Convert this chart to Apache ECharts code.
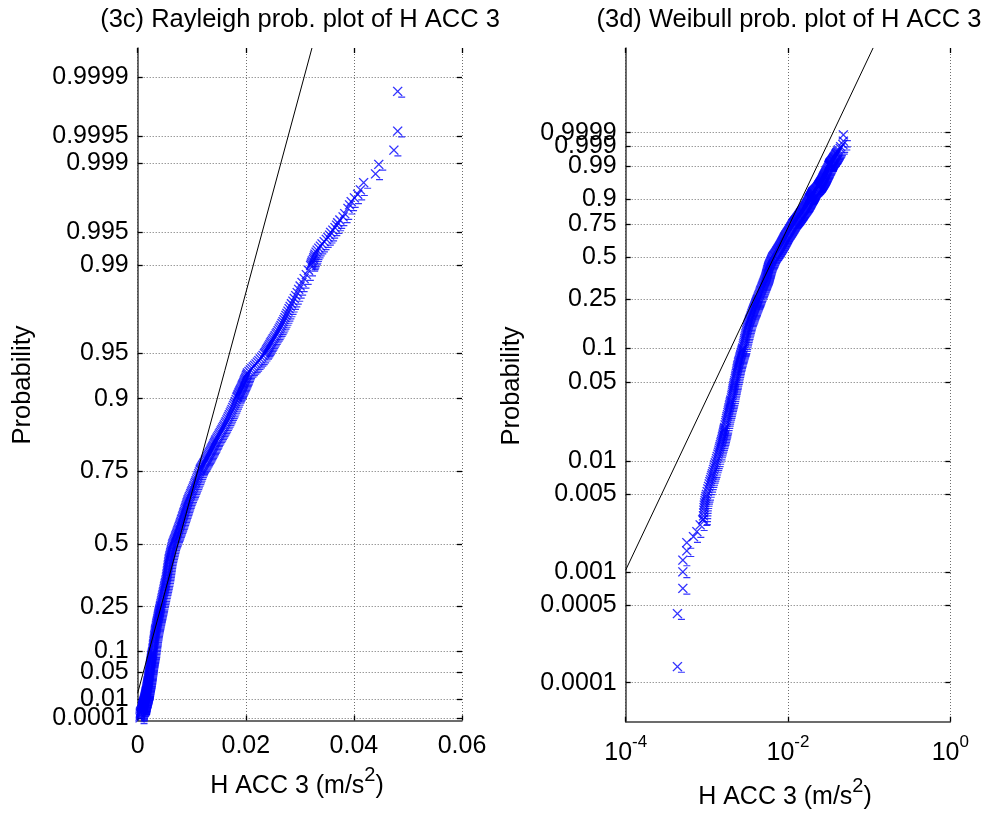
<!DOCTYPE html>
<html><head><meta charset="utf-8">
<script src="https://cdn.jsdelivr.net/npm/echarts@6/dist/echarts.min.js"></script>
<style>html,body{margin:0;padding:0;background:#fff}#c{width:987px;height:814px}</style>
</head><body><div id="c"></div>
<script>
// Sorted H ACC 3 samples: plotting probability (p) and value (m/s^2)
const accProbs = [
  0.00014,0.00042,0.00071,0.00100,0.00128,0.00155,0.00184,0.00208,0.00231,0.00266,0.00295,
  0.0030,0.0032,0.0034,0.0036,0.0038,0.0040,0.0042,0.0044,0.0046,0.0048,0.0050,0.0053,0.0056,
  0.0059,0.0062,0.0065,0.0068,0.0071,0.0074,0.0077,0.0080,0.0084,0.0088,0.0092,0.0096,0.0100,
  0.0105,0.011,0.0115,0.012,0.0125,0.013,0.0135,0.014,0.0145,0.015,
  0.0155,0.016,0.0165,0.017,0.0175,0.018,0.0185,0.019,0.0195,0.020,
  0.021,0.022,0.023,0.024,0.025,0.026,0.027,0.028,0.029,0.030,
  0.031,0.032,0.033,0.034,0.035,0.0365,0.038,0.0395,0.041,0.0425,
  0.044,0.0455,0.047,0.0485,0.050,0.052,0.054,0.056,0.058,0.060,
  0.062,0.064,0.066,0.068,0.070,0.072,0.074,0.076,0.078,0.080,
  0.082,0.084,0.086,0.088,0.090,0.092,0.094,0.096,0.098,0.100,
  0.104,0.108,0.112,0.116,0.120,0.124,0.128,0.132,0.136,0.140,
  0.144,0.148,0.152,0.156,0.160,0.164,0.168,0.172,0.176,0.180,
  0.184,0.188,0.192,0.196,0.200,0.204,0.208,0.212,0.216,0.220,
  0.224,0.228,0.232,0.236,0.240,0.244,0.248,0.252,0.256,0.262,
  0.268,0.274,0.280,0.286,0.292,0.298,0.304,0.310,0.316,0.322,
  0.328,0.334,0.340,0.346,0.352,0.358,0.364,0.370,0.376,0.382,
  0.388,0.394,0.400,0.406,0.412,0.418,0.424,0.430,0.436,0.442,
  0.448,0.454,0.460,0.466,0.472,0.478,0.484,0.490,0.496,0.502,
  0.507,0.512,0.517,0.522,0.527,0.532,0.537,0.542,0.547,0.552,
  0.557,0.562,0.567,0.572,0.577,0.582,0.587,0.592,0.597,0.602,
  0.607,0.612,0.617,0.622,0.627,0.632,0.637,0.642,0.647,0.652,
  0.657,0.662,0.667,0.672,0.677,0.682,0.687,0.692,0.697,0.702,
  0.707,0.712,0.717,0.722,0.727,0.732,0.737,0.742,0.747,0.752,
  0.755,0.758,0.761,0.764,0.767,0.770,0.773,0.776,0.779,0.782,
  0.785,0.788,0.791,0.794,0.797,0.800,0.803,0.806,0.809,0.812,
  0.815,0.818,0.821,0.824,0.827,0.830,0.833,0.836,0.839,0.842,
  0.845,0.848,0.851,0.854,0.857,0.860,0.863,0.866,0.869,0.872,
  0.875,0.878,0.881,0.884,0.887,0.890,0.893,0.896,0.899,0.902,
  0.9035,0.905,0.9065,0.908,0.9095,0.911,0.9125,0.914,0.9155,0.917,
  0.9185,0.920,0.9215,0.923,0.9245,0.926,0.9275,0.929,0.9305,0.932,
  0.9335,0.935,0.9365,0.938,0.9395,0.941,0.9425,0.944,0.9455,0.947,0.9485,0.950,
  0.951,0.952,0.953,0.954,0.955,0.956,0.957,0.958,0.959,0.960,
  0.961,0.962,0.963,0.964,0.965,0.966,0.967,0.968,0.969,0.970,
  0.971,0.972,0.973,0.974,0.975,0.976,0.977,0.978,0.979,0.980,
  0.981,0.982,0.983,0.984,0.985,0.986,0.987,0.988,0.989,0.990,
  0.9903,0.9906,0.9909,0.9912,0.9915,0.9918,0.9921,0.9924,0.9927,0.9930,
  0.9933,0.9936,0.9939,0.9942,0.99445,0.9947,0.9950,0.99526,0.9955,0.99575,
  0.99596,0.9962,0.99646,0.9967,0.99708,0.9973,0.99749,0.9977,0.99789,0.9981,
  0.9984,0.9987,0.99897,0.99928,0.99956,0.99985
];
const accValues = [
  0.000434,0.000434,0.000506,0.000506,0.000506,0.000566,0.000566,0.000684,0.000753,0.000827,0.000890,
  0.000905,0.000910,0.000915,0.000920,0.000925,0.000930,0.000940,0.000950,0.000960,0.000975,0.000990,0.00101,0.00103,
  0.00105,0.00107,0.00109,0.00111,0.00113,0.00115,0.00117,0.00119,0.00121,0.00123,0.00125,0.00127,0.00130,
  0.00132,0.00134,0.00137,0.00139,0.00141,0.00143,0.00145,0.00147,0.00149,0.00151,
  0.00153,0.00155,0.00156,0.00158,0.00159,0.00161,0.00162,0.00163,0.00165,0.00166,
  0.00168,0.00171,0.00173,0.00175,0.00177,0.00180,0.00182,0.00184,0.00186,0.00188,
  0.00190,0.00192,0.00194,0.00196,0.00198,0.00201,0.00203,0.00205,0.00207,0.00209,
  0.00211,0.00213,0.00215,0.00217,0.00219,0.00221,0.00224,0.00226,0.00228,0.00231,
  0.00233,0.00235,0.00237,0.00239,0.00241,0.00244,0.00246,0.00248,0.00251,0.00253,
  0.00256,0.00258,0.00261,0.00263,0.00266,0.00268,0.00271,0.00273,0.00276,0.00278,
  0.00281,0.00284,0.00288,0.00291,0.00294,0.00297,0.00300,0.00304,0.00307,0.00310,
  0.00313,0.00316,0.00320,0.00323,0.00326,0.00330,0.00334,0.00338,0.00343,0.00347,
  0.00351,0.00355,0.00359,0.00363,0.00368,0.00372,0.00376,0.00380,0.00384,0.00389,
  0.00393,0.00397,0.00401,0.00405,0.00410,0.00414,0.00418,0.00422,0.00426,0.00432,
  0.00438,0.00444,0.00450,0.00456,0.00462,0.00468,0.00474,0.00480,0.00486,0.00492,
  0.00498,0.00504,0.00510,0.00516,0.00522,0.00528,0.00533,0.00537,0.00541,0.00545,
  0.00549,0.00553,0.00557,0.00561,0.00565,0.00569,0.00573,0.00577,0.00581,0.00586,
  0.00593,0.00599,0.00606,0.00613,0.00619,0.00626,0.00632,0.00639,0.00645,0.00652,
  0.00663,0.00672,0.00681,0.00690,0.00699,0.00708,0.00717,0.00726,0.00734,0.00743,
  0.00752,0.00761,0.00770,0.00779,0.00788,0.00796,0.00805,0.00813,0.00822,0.00830,
  0.00839,0.00847,0.00856,0.00865,0.00873,0.00882,0.00890,0.00899,0.00907,0.00916,
  0.00925,0.00934,0.00946,0.00958,0.00971,0.00983,0.00995,0.01007,0.01019,0.01032,
  0.01044,0.01056,0.01068,0.01080,0.01093,0.01105,0.01117,0.01129,0.01142,0.01155,
  0.01162,0.01174,0.01186,0.01198,0.01210,0.01222,0.01234,0.01246,0.01258,0.01270,
  0.01282,0.01294,0.01306,0.01318,0.01330,0.01342,0.01354,0.01366,0.01378,0.01390,
  0.01402,0.01414,0.01426,0.01438,0.01450,0.01466,0.01482,0.01497,0.01513,0.01528,
  0.01543,0.01559,0.01574,0.01590,0.01605,0.01620,0.01636,0.01651,0.01667,0.01682,
  0.01697,0.01713,0.01728,0.01744,0.01759,0.01774,0.01790,0.01805,0.01821,0.01836,
  0.01843,0.01853,0.01863,0.01873,0.01883,0.01893,0.01903,0.01913,0.01923,0.01933,
  0.01943,0.01953,0.01963,0.01973,0.01983,0.01993,0.02003,0.02013,0.02023,0.02033,
  0.02059,0.02085,0.02111,0.02137,0.02163,0.02189,0.02215,0.02241,0.02267,0.02293,0.02319,0.02345,
  0.02360,0.02374,0.02388,0.02402,0.02416,0.02430,0.02445,0.02460,0.02475,0.02490,
  0.02508,0.02526,0.02544,0.02562,0.02580,0.02598,0.02616,0.02634,0.02652,0.02670,
  0.02688,0.02706,0.02724,0.02742,0.02760,0.02780,0.02800,0.02820,0.02845,0.02870,
  0.02897,0.02924,0.02951,0.02978,0.03005,0.03040,0.03080,0.03120,0.03160,0.03200,
  0.0321,0.0322,0.0323,0.0325,0.0326,0.0327,0.0328,0.0330,0.0332,0.0335,
  0.0338,0.0341,0.0345,0.0349,0.0352,0.0355,0.0357,0.0361,0.0365,0.0368,
  0.0370,0.0374,0.0380,0.0383,0.0389,0.0392,0.0395,0.0401,0.0407,0.0412,
  0.0418,0.0440,0.0446,0.0474,0.0481,0.0481
];
// Fitted reference lines: x (m/s^2) and exceedance probability (1 - p) at the line ends
const raylFitX = [0.0, 0.03224];
const raylFitExceed = [0.98343, 4.27e-5];
const wblFitX = [0.0001, 0.1119];
const wblFitExceed = [0.99896, 5.3e-24];
// Tick probabilities and labels
const raylTickProbs = [0.0001,0.01,0.05,0.1,0.25,0.5,0.75,0.9,0.95,0.99,0.995,0.999,0.9995,0.9999];
const raylTickLabels = ['0.0001','0.01','0.05','0.1','0.25','0.5','0.75','0.9','0.95','0.99','0.995','0.999','0.9995','0.9999'];
const wblTickProbs = [0.0001,0.0005,0.001,0.005,0.01,0.05,0.1,0.25,0.5,0.75,0.9,0.99,0.999,0.9999];
const wblTickLabels = ['0.0001','0.0005','0.001','0.005','0.01','0.05','0.1','0.25','0.5','0.75','0.9','0.99','0.999','0.9999'];
const raylXTicks = [0, 0.02, 0.04, 0.06];
const raylXTickLabels = ['0','0.02','0.04','0.06'];
const wblXTicks = [0.0001, 0.01, 1];
const wblXTickLabels = ['{b|10}{s|-4}','{b|10}{s|-2}','{b|10}{s|0}'];

// probability-paper transforms (the axes' own coordinates)
const raylPos = p => Math.sqrt(-2 * Math.log1p(-p));
const wblPos = p => Math.log(-Math.log1p(-p));
const raylPosE = e => Math.sqrt(-2 * Math.log(e));
const wblPosE = e => Math.log(-Math.log(e));

const FONT = '"Liberation Sans", Arial, Helvetica, sans-serif';
const lookup = (vals, labels) => v => {
  let b = 0;
  for (let i = 1; i < vals.length; i++) if (Math.abs(vals[i] - v) < Math.abs(vals[b] - v)) b = i;
  return labels[b];
};
const raylYVals = raylTickProbs.map(raylPos);
const wblYVals = wblTickProbs.map(wblPos);
const wblXVals = wblXTicks.map(Math.log10);
const even = (a) => a.filter((_, i) => i % 2 === 0);
const odd = (a) => a.filter((_, i) => i % 2 === 1);

const gridLine = { show: true, lineStyle: { color: '#6e6e6e', type: [1, 2], width: 1 } };
const axLine = { show: true, onZero: false, lineStyle: { color: '#3c3c3c', width: 1.5 } };
const noLine = { show: false, onZero: false };
const tickSt = { lineStyle: { color: '#000', width: 1.3 } };
const lblSt = { fontFamily: FONT, fontSize: 25, color: '#000', hideOverlap: false, showMinLabel: true, showMaxLabel: true };
const supRich = {
  b: { fontFamily: FONT, fontSize: 25, lineHeight: 32, color: '#000', verticalAlign: 'bottom' },
  s: { fontFamily: FONT, fontSize: 17, color: '#000', verticalAlign: 'top' }
};

const RAYL_YMAX = 4.486, WBL_YMIN = -10.02, WBL_YMAX = 3.98;

function xAx(grid, min, max, vals, labels, bottom, rich) {
  return {
    gridIndex: grid, type: 'value', min: min, max: max, position: bottom ? 'bottom' : 'top',
    axisLine: bottom ? axLine : noLine,
    axisTick: Object.assign({ show: true, inside: true, length: 5, customValues: vals }, tickSt),
    axisLabel: bottom ? Object.assign({ show: true, customValues: vals, margin: rich ? 12 : 13,
      formatter: lookup(vals, labels) }, lblSt, rich ? { rich: supRich } : {}) : { show: false },
    splitLine: bottom ? gridLine : { show: false }
  };
}
// kind: 'main' (left line, ticks, grid, half of labels), 'labels' (other half of labels), 'right' (ticks only)
function yAx(grid, min, max, vals, labels, kind) {
  const main = kind === 'main', lab = kind === 'labels';
  const lv = main ? even(vals) : odd(vals);
  const ll = main ? even(labels) : odd(labels);
  return {
    gridIndex: grid, type: 'value', min: min, max: max, position: kind === 'right' ? 'right' : 'left', offset: 0,
    axisLine: main ? axLine : noLine,
    axisTick: lab ? { show: false } : Object.assign({ show: true, inside: true, length: 5, customValues: vals }, tickSt),
    axisLabel: (main || lab) ? Object.assign({ show: true, customValues: lv, margin: 9,
      formatter: lookup(lv, ll) }, lblSt) : { show: false },
    splitLine: main ? Object.assign({}, gridLine) : { show: false }
  };
}

const marker = 'path://M0,0L9,9M9,0L0,9M5,10.2L12,10.2';
function scatter(xi, yi, data) {
  return {
    type: 'scatter', xAxisIndex: xi, yAxisIndex: yi, data: data, silent: true,
    symbol: marker, symbolSize: [12, 10.2], symbolOffset: [1.5, 0.6],
    itemStyle: { color: 'rgba(0,0,0,0)', borderColor: '#0000ff', borderWidth: 1.3 },
    z: 2, animation: false, large: false
  };
}
function fit(xi, yi, data) {
  return {
    type: 'line', xAxisIndex: xi, yAxisIndex: yi, data: data, symbol: 'none', showSymbol: false,
    clip: true, silent: true, lineStyle: { color: '#000', width: 1 }, z: 3, animation: false
  };
}

const nPts = Math.min(accValues.length, accProbs.length);
const raylData = [], wblData = [];
for (let i = 0; i < nPts; i++) {
  raylData.push([accValues[i], raylPos(accProbs[i])]);
  wblData.push([Math.log10(accValues[i]), wblPos(accProbs[i])]);
}
const raylFit = raylFitX.map((x, i) => [x, raylPosE(raylFitExceed[i])]);
const wblFit = wblFitX.map((x, i) => [Math.log10(x), wblPosE(wblFitExceed[i])]);

const titleSt = { fontFamily: FONT, fontSize: 25.5, fill: '#000' };
const nameRich = {
  b: { fontFamily: FONT, fontSize: 25, lineHeight: 32.5, fill: '#000', verticalAlign: 'bottom' },
  s: { fontFamily: FONT, fontSize: 20, fill: '#000', verticalAlign: 'top' }
};
const xName = '{b|H ACC 3 (m/s}{s|2}{b|)}';

const chart = echarts.init(document.getElementById('c'), null, { renderer: 'canvas' });
chart.setOption({
  backgroundColor: '#ffffff',
  animation: false,
  grid: [
    { left: 137.7, top: 48, width: 324.3, height: 672.4, outerBoundsMode: 'none' },
    { left: 625.7, top: 48, width: 324.6, height: 673.7, outerBoundsMode: 'none' }
  ],
  xAxis: [
    xAx(0, 0, 0.06, raylXTicks, raylXTickLabels, true, false),
    xAx(0, 0, 0.06, raylXTicks, raylXTickLabels, false, false),
    xAx(1, -4, 0, wblXVals, wblXTickLabels, true, true),
    xAx(1, -4, 0, wblXVals, wblXTickLabels, false, true)
  ],
  yAxis: [
    yAx(0, 0, RAYL_YMAX, raylYVals, raylTickLabels, 'main'),
    yAx(0, 0, RAYL_YMAX, raylYVals, raylTickLabels, 'right'),
    yAx(1, WBL_YMIN, WBL_YMAX, wblYVals, wblTickLabels, 'main'),
    yAx(1, WBL_YMIN, WBL_YMAX, wblYVals, wblTickLabels, 'right'),
    yAx(0, 0, RAYL_YMAX, raylYVals, raylTickLabels, 'labels'),
    yAx(1, WBL_YMIN, WBL_YMAX, wblYVals, wblTickLabels, 'labels')
  ],
  series: [
    scatter(0, 0, raylData),
    fit(0, 0, raylFit),
    scatter(2, 2, wblData),
    fit(2, 2, wblFit)
  ],
  graphic: [
    { type: 'text', x: 300, y: 20, silent: true,
      style: Object.assign({ text: '(3c) Rayleigh prob. plot of H ACC 3', align: 'center', verticalAlign: 'middle' }, titleSt) },
    { type: 'text', x: 789, y: 20, silent: true,
      style: Object.assign({ text: '(3d) Weibull prob. plot of H ACC 3', align: 'center', verticalAlign: 'middle' }, titleSt) },
    { type: 'text', x: 23, y: 385, rotation: Math.PI / 2, silent: true,
      style: Object.assign({ text: 'Probability', align: 'center', verticalAlign: 'middle' }, titleSt) },
    { type: 'text', x: 512, y: 386, rotation: Math.PI / 2, silent: true,
      style: Object.assign({ text: 'Probability', align: 'center', verticalAlign: 'middle' }, titleSt) },
    { type: 'text', x: 297, y: 782, silent: true,
      style: { text: xName, rich: nameRich, align: 'center', verticalAlign: 'middle', fontFamily: FONT, fontSize: 25 } },
    { type: 'text', x: 785, y: 793, silent: true,
      style: { text: xName, rich: nameRich, align: 'center', verticalAlign: 'middle', fontFamily: FONT, fontSize: 25 } }
  ]
});
</script>
</body></html>
